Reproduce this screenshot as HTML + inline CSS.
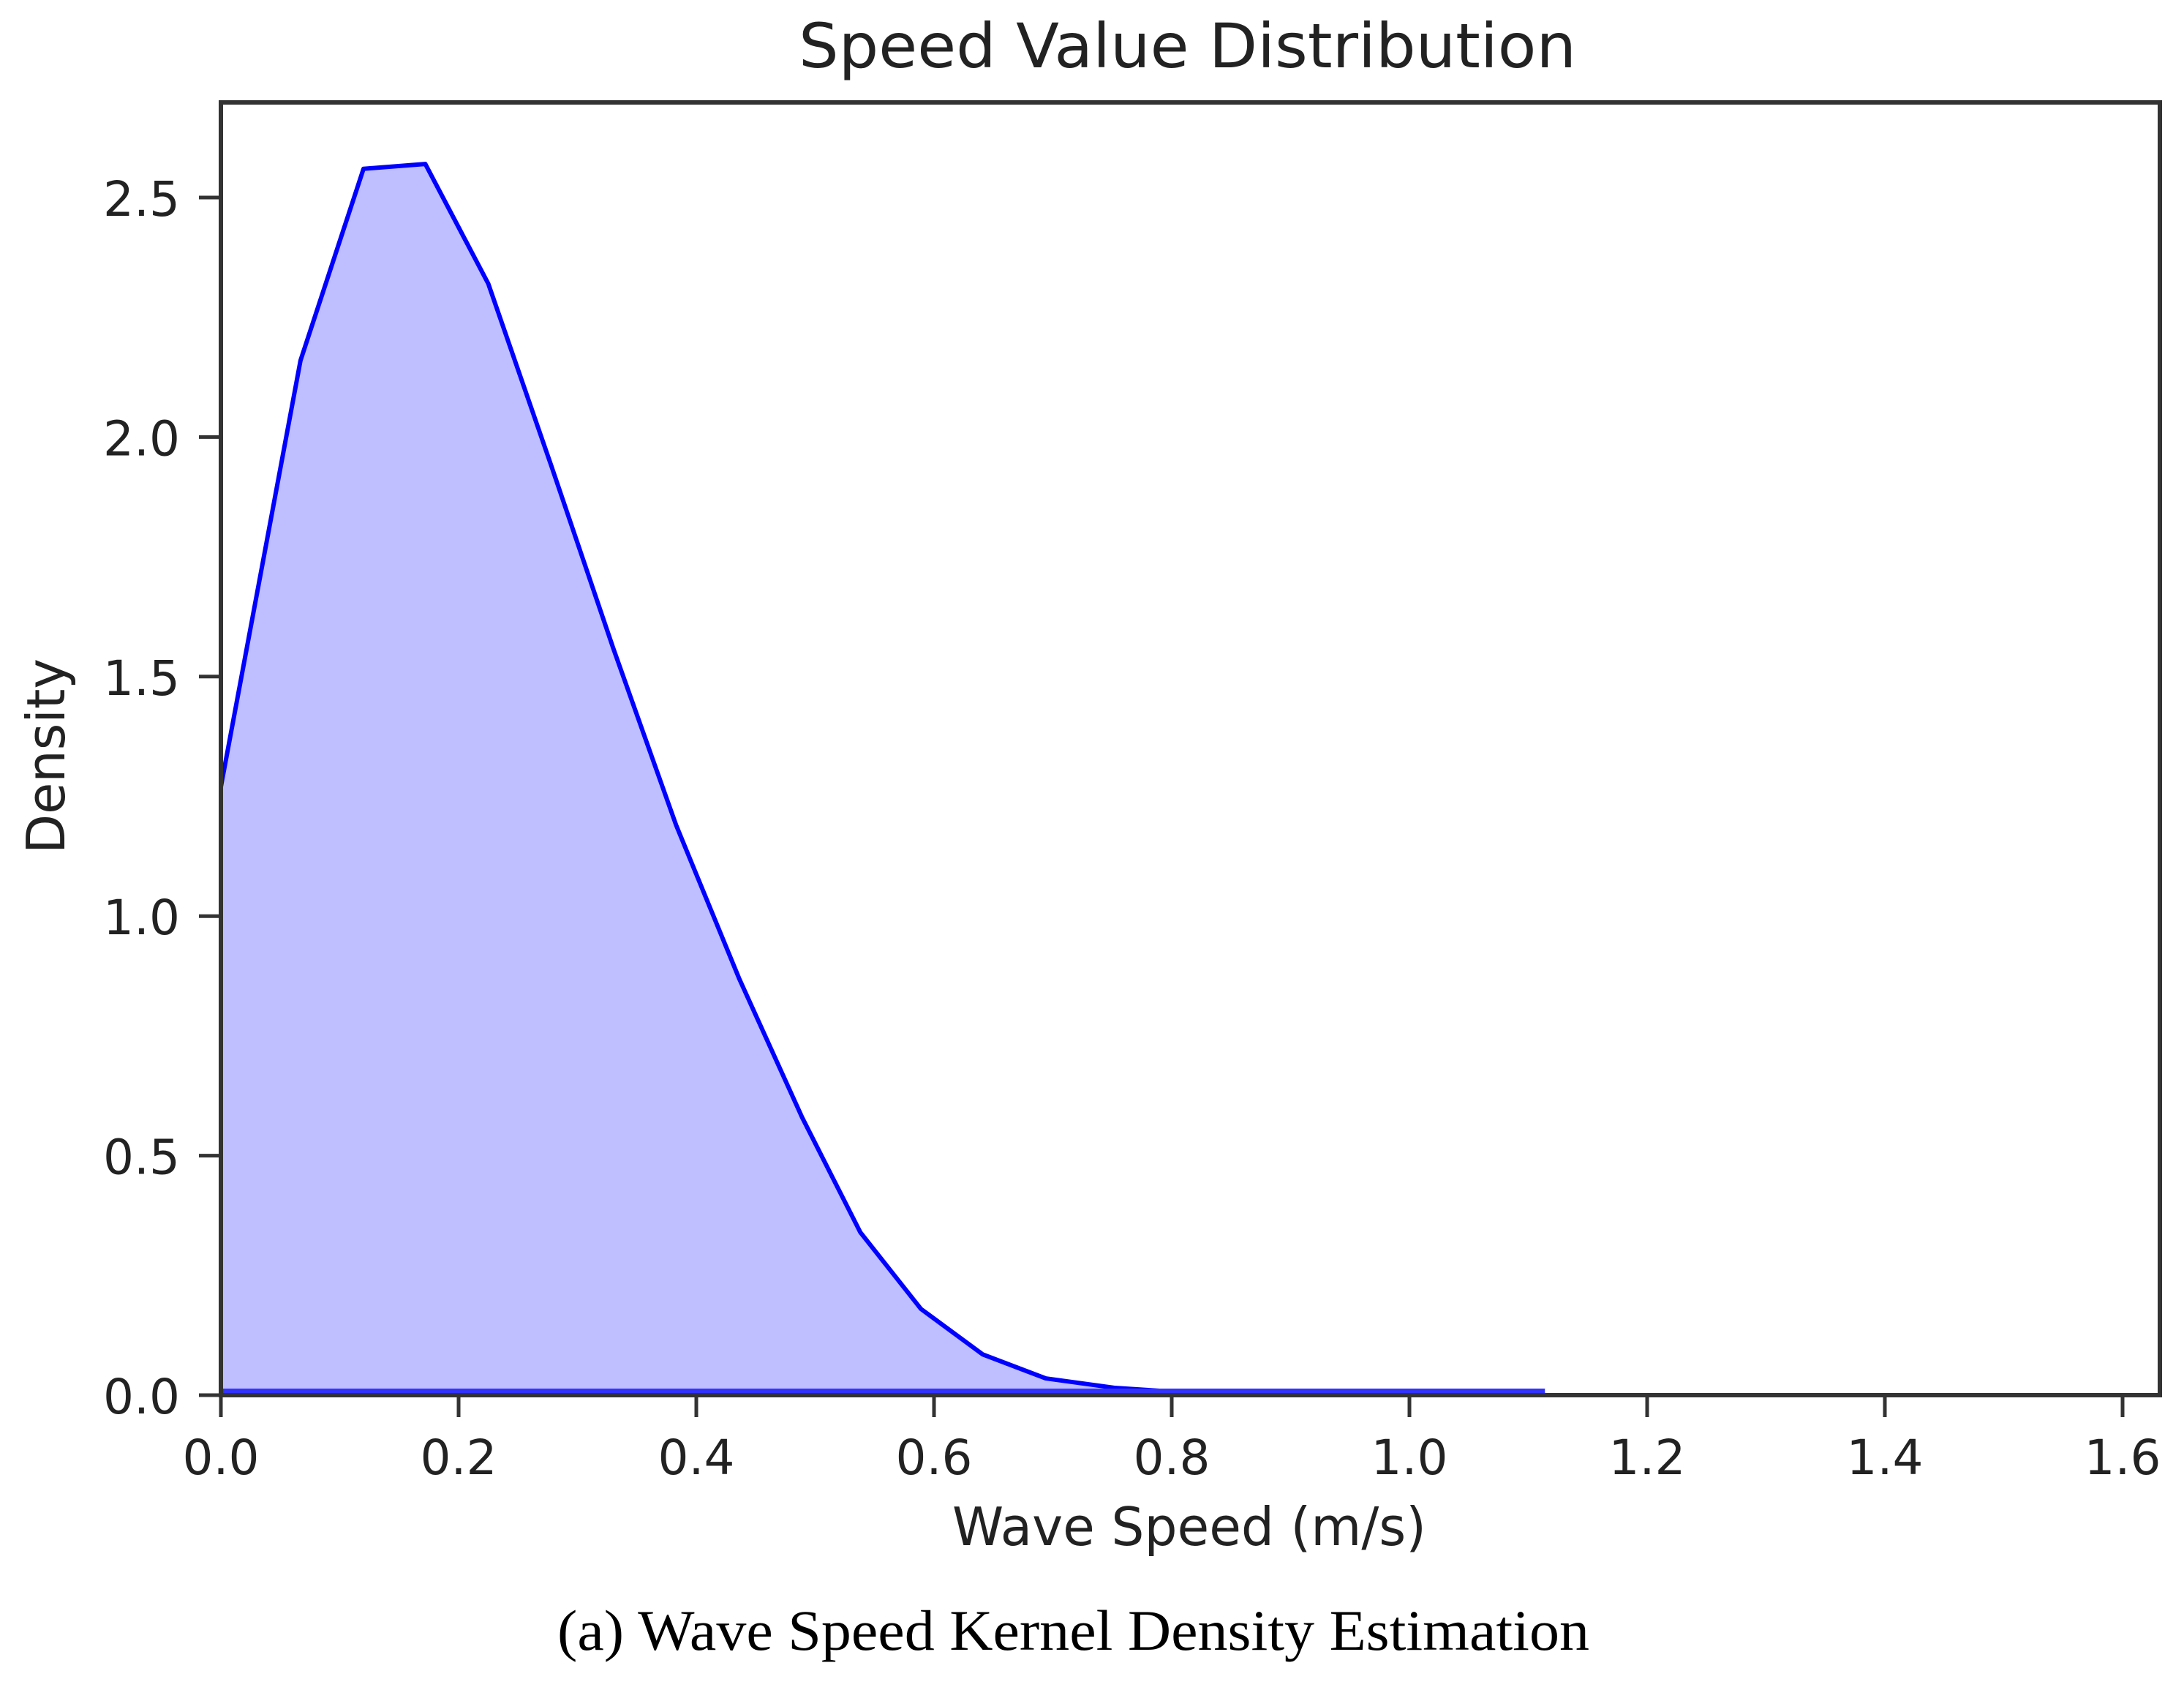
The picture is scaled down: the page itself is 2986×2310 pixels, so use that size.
<!DOCTYPE html>
<html><head><meta charset="utf-8"><style>
html,body{margin:0;padding:0;background:#fff;}
svg{display:block;}
</style></head><body>
<svg id="chart" width="2986" height="2310" viewBox="0 0 2986 2310" xmlns="http://www.w3.org/2000/svg">
<rect width="2986" height="2310" fill="#fff"/>
<g id="plot"></g>
<text x="1092" y="92" textLength="1063" lengthAdjust="spacingAndGlyphs" font-family="DejaVu Sans, Liberation Sans, sans-serif" font-size="84" fill="#222">Speed Value Distribution</text>
<text x="1302" y="2112" textLength="648" lengthAdjust="spacingAndGlyphs" font-family="DejaVu Sans, Liberation Sans, sans-serif" font-size="72" fill="#222">Wave Speed (m/s)</text>
<text transform="translate(88,1167) rotate(-90)" x="0" y="0" textLength="267" lengthAdjust="spacingAndGlyphs" font-family="DejaVu Sans, Liberation Sans, sans-serif" font-size="72" fill="#222">Density</text>
<text x="762" y="2255" textLength="1411" lengthAdjust="spacingAndGlyphs" font-family="Liberation Serif, serif" font-size="78" fill="#000">(a) Wave Speed Kernel Density Estimation</text>
</svg>
<script>
const xValues = [0, 0.067, 0.12, 0.172, 0.225, 0.278, 0.33, 0.383, 0.436, 0.489, 0.538, 0.589, 0.641, 0.694, 0.753, 0.81, 0.87, 0.987, 1.114];
const densityValues = [1.27, 2.16, 2.56, 2.57, 2.32, 1.94, 1.56, 1.19, 0.87, 0.58, 0.34, 0.18, 0.085, 0.035, 0.015, 0.006, 0.003, 0.002, 0.001];
const xTicks = [0, 0.2, 0.4, 0.6, 0.8, 1.0, 1.2, 1.4, 1.6];
const xTickLabels = ["0.0","0.2","0.4","0.6","0.8","1.0","1.2","1.4","1.6"];
const yTicks = [0, 0.5, 1.0, 1.5, 2.0, 2.5];
const yTickLabels = ["0.0","0.5","1.0","1.5","2.0","2.5"];

const NS = "http://www.w3.org/2000/svg";
const L = 302, R = 2953, T = 140, B = 1907;
function sx(v){ return 302 + v * 1625; }
function sy(v){ return 1907 - v * 654.8; }
const g = document.getElementById('plot');
function mk(tag, attrs){ const e = document.createElementNS(NS, tag); for (const k in attrs) e.setAttribute(k, attrs[k]); g.appendChild(e); return e; }

let d = "M" + sx(xValues[0]) + "," + sy(0);
for (let i = 0; i < xValues.length; i++) d += " L" + sx(xValues[i]) + "," + sy(densityValues[i]);
d += " L" + sx(xValues[xValues.length-1]) + "," + sy(0) + " Z";
const area = mk('path', {d: d, fill: '#bfbfff', stroke: 'none'});



let ld = "";
for (let i = 0; i < xValues.length; i++) ld += (i ? " L" : "M") + sx(xValues[i]) + "," + sy(densityValues[i]);
const line = mk('path', {d: ld, fill: 'none', stroke: '#0000ff', 'stroke-width': 6, 'stroke-linejoin': 'round'});


const base = mk('line', {x1: sx(0), x2: sx(xValues[xValues.length-1]), y1: sy(0) - 6, y2: sy(0) - 6, stroke: '#3333ff', 'stroke-width': 6});



const frame = mk('rect', {x: L, y: T, width: R - L, height: B - T, fill: 'none', stroke: '#333', 'stroke-width': 6});



xTicks.forEach((v, i) => {
  const t = mk('line', {x1: sx(v), x2: sx(v), y1: B, y2: B + 30, stroke: '#333', 'stroke-width': 5});
  
  
  const tx = mk('text', {x: sx(v), y: 2015, 'text-anchor': 'middle', 'font-family': 'DejaVu Sans, Liberation Sans, sans-serif', 'font-size': 66, fill: '#222'});
  tx.textContent = xTickLabels[i];
  
  
});
yTicks.forEach((v, i) => {
  const t = mk('line', {x1: L - 30, x2: L, y1: sy(v), y2: sy(v), stroke: '#333', 'stroke-width': 5});
  
  
  const tx = mk('text', {x: 246, y: sy(v) + 25, 'text-anchor': 'end', 'font-family': 'DejaVu Sans, Liberation Sans, sans-serif', 'font-size': 66, fill: '#222'});
  tx.textContent = yTickLabels[i];
  
  
});
</script>
</body></html>
